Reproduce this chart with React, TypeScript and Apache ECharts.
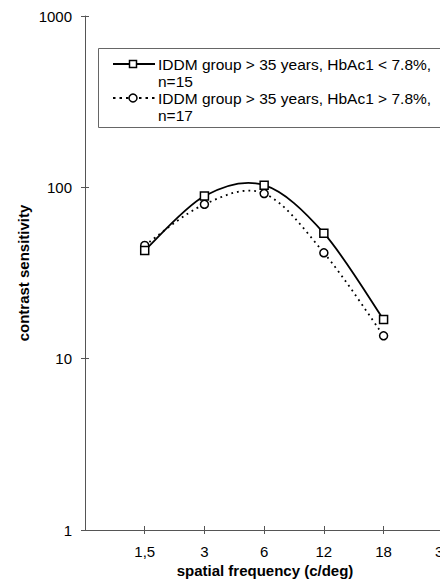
import React, { useEffect, useRef } from "react";
import * as echarts from "echarts";

const freqLabels = ["1,5", "3", "6", "12", "18", "30"];
const freqPositions = [1, 2, 3, 4, 5, 6];
const csLowHbA = [42.8, 89, 103, 54, 16.9];
const csHighHbA = [45.8, 79.6, 92, 41.5, 13.6];
const seriesNames = [
  "IDDM group > 35 years, HbAc1 < 7.8%, n=15",
  "IDDM group > 35 years, HbAc1 > 7.8%, n=17",
];
const legendLines = [
  ["IDDM group > 35 years, HbAc1 < 7.8%,", "n=15"],
  ["IDDM group > 35 years, HbAc1 > 7.8%,", "n=17"],
];
const yTicks = [1, 10, 100, 1000];

const FONT = '"Liberation Sans", Arial, sans-serif';

function splineSeries(values: number[], dash: number[] | null) {
  const pts = values.map((v, i) => [freqPositions[i], v]);
  return {
    type: "custom",
    coordinateSystem: "cartesian2d",
    xAxisIndex: 0,
    yAxisIndex: 0,
    silent: true,
    z: 1,
    encode: { x: 0, y: 1 },
    data: pts,
    renderItem: (params: any, api: any) => {
      const i = params.dataIndex;
      const n = pts.length;
      if (i >= n - 1) return { type: "group", children: [] };
      const c = (k: number) => api.coord(pts[Math.max(0, Math.min(n - 1, k))]);
      const p0 = c(i - 1);
      const p1 = c(i);
      const p2 = c(i + 1);
      const p3 = c(i + 2);
      const t = 6;
      return {
        type: "bezierCurve",
        shape: {
          x1: p1[0],
          y1: p1[1],
          x2: p2[0],
          y2: p2[1],
          cpx1: p1[0] + (p2[0] - p0[0]) / t,
          cpy1: p1[1] + (p2[1] - p0[1]) / t,
          cpx2: p2[0] - (p3[0] - p1[0]) / t,
          cpy2: p2[1] - (p3[1] - p1[1]) / t,
        },
        style: {
          stroke: "#000",
          fill: "none",
          lineWidth: 1.8,
          lineDash: dash || undefined,
        },
      };
    },
  };
}

export default function App() {
  const ref = useRef<HTMLDivElement>(null);
  useEffect(() => {
    if (!ref.current) return;
    const chart = echarts.init(ref.current, undefined, { renderer: "svg" });
    const labelMap: Record<number, string> = {};
    freqPositions.forEach((p, i) => (labelMap[p] = freqLabels[i]));
    const axisLineStyle = { color: "#555", width: 1 };
    const option: any = {
      animation: false,
      backgroundColor: "#fff",
      textStyle: { fontFamily: FONT },
      grid: { left: 85, right: 17, top: 16, bottom: 57, containLabel: false },
      xAxis: [
        {
          type: "value",
          min: 0,
          max: 7,
          interval: 1,
          position: "bottom",
          axisLine: { show: true, onZero: false, lineStyle: axisLineStyle },
          axisTick: { show: true, length: 4, lineStyle: axisLineStyle },
          splitLine: { show: false },
          axisLabel: {
            margin: 14,
            fontSize: 15,
            color: "#000",
            fontFamily: FONT,
            showMinLabel: false,
            showMaxLabel: false,
            formatter: (v: number) => labelMap[v] ?? "",
          },
        },
        {
          type: "value",
          min: 0,
          max: 7,
          interval: 1,
          position: "bottom",
          axisLine: { show: false, onZero: false },
          axisTick: { show: true, inside: true, length: 4, lineStyle: axisLineStyle },
          splitLine: { show: false },
          axisLabel: { show: false },
        },
      ],
      yAxis: [
        {
          type: "log",
          logBase: 10,
          min: 1,
          max: 1000,
          axisLine: { show: true, onZero: false, lineStyle: axisLineStyle },
          axisTick: { show: true, length: 4, lineStyle: axisLineStyle },
          splitLine: { show: false },
          minorTick: { show: false },
          axisLabel: {
            margin: 13,
            fontSize: 15,
            color: "#000",
            fontFamily: FONT,
            formatter: (v: number) => (yTicks.includes(Math.round(v)) ? String(Math.round(v)) : ""),
          },
        },
        {
          type: "log",
          logBase: 10,
          min: 1,
          max: 1000,
          position: "left",
          axisLine: { show: false, onZero: false },
          axisTick: { show: true, inside: true, length: 4, lineStyle: axisLineStyle },
          splitLine: { show: false },
          axisLabel: { show: false },
        },
      ],
      series: [
        splineSeries(csLowHbA, null),
        splineSeries(csHighHbA, [1.8, 4]),
        {
          name: seriesNames[0],
          type: "line",
          xAxisIndex: 0,
          yAxisIndex: 0,
          data: csLowHbA.map((v, i) => [freqPositions[i], v]),
          symbol: "rect",
          symbolSize: 8,
          lineStyle: { width: 0, opacity: 0 },
          itemStyle: { color: "#fff", borderColor: "#000", borderWidth: 1.5 },
          z: 3,
        },
        {
          name: seriesNames[1],
          type: "line",
          xAxisIndex: 0,
          yAxisIndex: 0,
          data: csHighHbA.map((v, i) => [freqPositions[i], v]),
          symbol: "circle",
          symbolSize: 8,
          lineStyle: { width: 0, opacity: 0 },
          itemStyle: { color: "#fff", borderColor: "#000", borderWidth: 1.5 },
          z: 2,
        },
      ],
      graphic: [
        {
          type: "text",
          x: 23,
          y: 273,
          rotation: Math.PI / 2,
          style: {
            text: "contrast sensitivity",
            font: `bold 15px ${FONT}`,
            fill: "#000",
            align: "center",
            verticalAlign: "middle",
          },
        },
        {
          type: "text",
          x: 265,
          y: 570,
          style: {
            text: "spatial frequency (c/deg)",
            font: `bold 15px ${FONT}`,
            fill: "#000",
            align: "center",
            verticalAlign: "middle",
          },
        },
        {
          type: "rect",
          shape: { x: 98.5, y: 48.5, width: 420, height: 79 },
          style: { fill: "#fff", stroke: "#666", lineWidth: 1 },
          z: 10,
        },
        {
          type: "line",
          shape: { x1: 113, y1: 64, x2: 155, y2: 64 },
          style: { stroke: "#000", lineWidth: 1.8 },
          z: 11,
        },
        {
          type: "rect",
          shape: { x: 129.5, y: 60.5, width: 7, height: 7 },
          style: { fill: "#fff", stroke: "#000", lineWidth: 1.5 },
          z: 12,
        },
        {
          type: "line",
          shape: { x1: 113, y1: 98, x2: 155, y2: 98 },
          style: { stroke: "#000", lineWidth: 1.8, lineDash: [2.5, 4] },
          z: 11,
        },
        {
          type: "circle",
          shape: { cx: 133, cy: 98, r: 4 },
          style: { fill: "#fff", stroke: "#000", lineWidth: 1.5 },
          z: 12,
        },
        ...legendLines.flatMap((lines, i) =>
          lines.map((t, j) => ({
            type: "text",
            x: 158,
            y: 64 + i * 34 + j * 17,
            style: {
              text: t,
              font: `15.5px ${FONT}`,
              fill: "#000",
              align: "left",
              verticalAlign: "middle",
            },
            z: 12,
          }))
        ),
      ],
    };
    chart.setOption(option);
    return () => chart.dispose();
  }, []);
  return (
    <div
      style={{
        position: "fixed",
        left: 0,
        top: 0,
        width: 440,
        height: 587,
        overflow: "hidden",
        background: "#fff",
      }}
    >
      <div ref={ref} style={{ width: 520, height: 587 }} />
    </div>
  );
}
